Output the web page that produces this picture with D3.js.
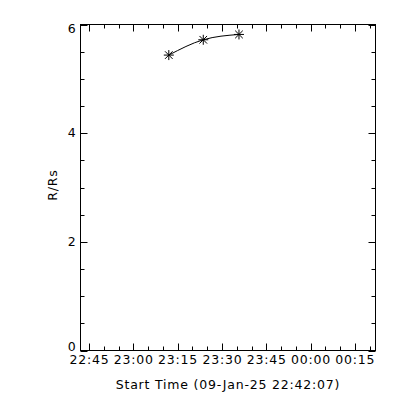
<!DOCTYPE html>
<html><head><meta charset="utf-8">
<script src="https://cdn.jsdelivr.net/npm/d3@7"></script>
<style>
html,body{margin:0;padding:0;background:#fff;}
text{font-family:"DejaVu Sans",sans-serif;font-size:12.5px;fill:#000;letter-spacing:0.8px;}
</style></head>
<body><svg id="c" width="400" height="400"></svg>
<script>
// Data
const times = ["2025-01-09T23:12:00", "2025-01-09T23:23:40", "2025-01-09T23:35:45"];
const heights = [5.437, 5.719, 5.817];
const xDomain = ["2025-01-09T22:42:07", "2025-01-10T00:21:57"];
const yDomain = [0, 6];
const yMajorTicks = [0, 2, 4, 6];
const xTitle = "Start Time (09-Jan-25 22:42:07)";
const yTitle = "R/Rs";

const parse = d3.isoParse;
const svg = d3.select("#c");
const L = 80.5, R = 375.5, T = 24.5, B = 350.5;

const x = d3.scaleTime().domain(xDomain.map(parse)).range([L, R]);
const y = d3.scaleLinear().domain(yDomain).range([B, T]);

svg.append("rect").attr("width", 400).attr("height", 400).attr("fill", "#fff");

const majorLen = 7, minorLen = 4;
const fmt = d3.timeFormat("%H:%M");
const xMajor = x.ticks(d3.timeMinute.every(15));
const xMinor = x.ticks(d3.timeMinute.every(5)).filter(t => t.getMinutes() % 15 !== 0);
const yMinor = d3.range(0, 6.01, 0.5).filter(v => yMajorTicks.indexOf(v) < 0);

const g = svg.append("g").attr("stroke", "#000").attr("stroke-width", 1).attr("fill", "none");
g.append("rect").attr("x", L).attr("y", T).attr("width", R - L).attr("height", B - T);

function xt(list, len) {
  list.forEach(t => {
    const px = Math.round(x(t)) + 0.5;
    g.append("line").attr("x1", px).attr("x2", px).attr("y1", B).attr("y2", B - len);
    g.append("line").attr("x1", px).attr("x2", px).attr("y1", T).attr("y2", T + len);
  });
}
function yt(list, len) {
  list.forEach(v => {
    const py = Math.round(y(v)) + 0.5;
    g.append("line").attr("x1", L).attr("x2", L + len).attr("y1", py).attr("y2", py);
    g.append("line").attr("x1", R).attr("x2", R - len).attr("y1", py).attr("y2", py);
  });
}
xt(xMajor, majorLen); xt(xMinor, minorLen);
yt(yMajorTicks, majorLen); yt(yMinor, minorLen);

xMajor.forEach(t => {
  svg.append("text").attr("x", x(t) + 0.4).attr("y", 364).attr("text-anchor", "middle").text(fmt(t));
});
yMajorTicks.forEach(v => {
  let py = y(v) + 4;
  if (v === 6) py = y(v) + 8;
  if (v === 0) py = y(v) - 0;
  svg.append("text").attr("x", 76.5).attr("y", py).attr("text-anchor", "end").text(v);
});
svg.append("text").attr("x", (L + R) / 2).attr("y", 389).attr("text-anchor", "middle").text(xTitle);
svg.append("text").attr("transform", "translate(57,185) rotate(-90)").attr("text-anchor", "middle").text(yTitle);

const pts = times.map((t, i) => [x(parse(t)), y(heights[i])]);
svg.append("path").attr("d", d3.line().curve(d3.curveNatural)(pts))
  .attr("fill", "none").attr("stroke", "#000").attr("stroke-width", 1);

const s = 5, d = 3.8;
pts.forEach(p => {
  const m = svg.append("g").attr("stroke", "#000").attr("stroke-width", 1)
    .attr("transform", `translate(${p[0]},${p[1]})`);
  m.append("line").attr("x1", -s).attr("x2", s).attr("y1", 0).attr("y2", 0);
  m.append("line").attr("x1", 0).attr("x2", 0).attr("y1", -s).attr("y2", s);
  m.append("line").attr("x1", -d).attr("x2", d).attr("y1", -d).attr("y2", d);
  m.append("line").attr("x1", -d).attr("x2", d).attr("y1", d).attr("y2", -d);
});
</script></body></html>
